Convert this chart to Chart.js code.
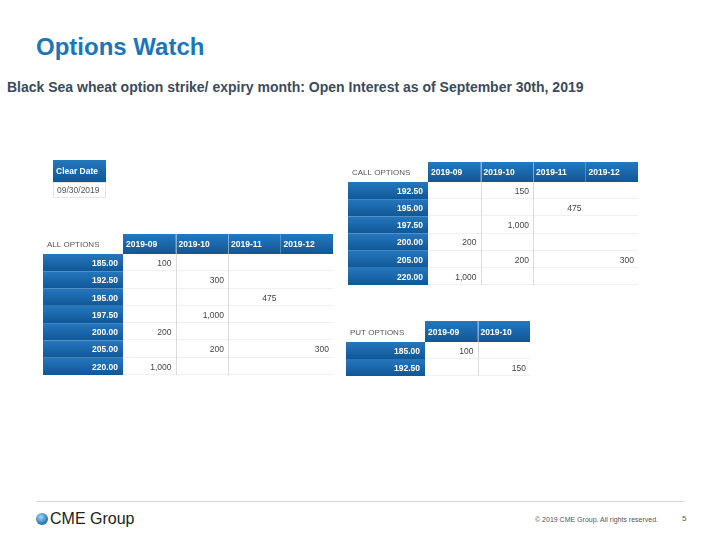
<!DOCTYPE html>
<html>
<head>
<meta charset="utf-8">
<script src="https://cdn.jsdelivr.net/npm/chart.js@4.4.0/dist/chart.umd.min.js"></script>
<style>
  body { margin: 0; width: 720px; height: 540px; background: #fff; position: relative; overflow: hidden;
         font-family: "Liberation Sans", Arial, sans-serif; }
  .abs { position: absolute; }
  #title { left: 36px; top: 32px; font-size: 24px; font-weight: bold; color: #1b75bb; line-height: 30px; }
  #subtitle { left: 7px; top: 79px; font-size: 14px; font-weight: bold; color: #3a4a5e; line-height: 17px; }
  #rule { left: 36px; top: 501px; width: 649px; height: 1px; background: #d9d9d9; }
  #logo { left: 36px; top: 509px; font-size: 16px; color: #222; line-height: 20px; }
  #globe { display: inline-block; width: 12px; height: 12px; border-radius: 50%; vertical-align: -1px; margin-right: 2px;
           background: radial-gradient(circle at 40% 35%, #a8d6f2, #2a7fc0 60%, #14578f); }
  #copy { left: 535px; top: 515px; font-size: 7px; color: #555; line-height: 9px; }
  #page { left: 682px; top: 514px; font-size: 8px; color: #555; line-height: 10px; }
  canvas { position: absolute; }
</style>
</head>
<body>
<div id="title" class="abs">Options Watch</div>
<div id="subtitle" class="abs">Black Sea wheat option strike/ expiry month: Open Interest as of September 30th, 2019</div>

<canvas id="clearDate" width="53" height="38" style="left:53px;top:160px"></canvas>
<canvas id="allOptions" width="290" height="141" style="left:43px;top:234px"></canvas>
<canvas id="callOptions" width="290" height="123" style="left:348px;top:162px"></canvas>
<canvas id="putOptions" width="184" height="55" style="left:346px;top:321px"></canvas>

<div id="rule" class="abs"></div>
<div id="logo" class="abs"><span id="globe"></span>CME Group</div>
<div id="copy" class="abs">© 2019 CME Group. All rights reserved.</div>
<div id="page" class="abs">5</div>

<script>
// clear date
var clearDates = ['09/30/2019'];

// all options
var allStrikes = ['185.00', '192.50', '195.00', '197.50', '200.00', '205.00', '220.00'];
var allMonths = ['2019-09', '2019-10', '2019-11', '2019-12'];
var allSep = [100, null, null, null, 200, null, 1000];
var allOct = [null, 300, null, 1000, null, 200, null];
var allNov = [null, null, 475, null, null, null, null];
var allDec = [null, null, null, null, null, 300, null];

// call options
var callStrikes = ['192.50', '195.00', '197.50', '200.00', '205.00', '220.00'];
var callMonths = ['2019-09', '2019-10', '2019-11', '2019-12'];
var callSep = [null, null, null, 200, null, 1000];
var callOct = [150, null, 1000, null, 200, null];
var callNov = [null, 475, null, null, null, null];
var callDec = [null, null, null, null, 300, null];

// put options
var putStrikes = ['185.00', '192.50'];
var putMonths = ['2019-09', '2019-10'];
var putSep = [100, null];
var putOct = [null, 150];

var cellFont = 'bold 8.5px "Liberation Sans Narrow", "Liberation Sans", Arial, sans-serif';
var valueFont = '8.5px "Liberation Sans", Arial, sans-serif';
var nameFont = '8px "Liberation Sans", Arial, sans-serif';

function blueCell(ctx, x, y, w, h) {
    var g = ctx.createLinearGradient(0, y, 0, y + h);
    g.addColorStop(0, '#2677be');
    g.addColorStop(1, '#0f5797');
    ctx.fillStyle = g;
    ctx.fillRect(x, y, w, h);
}

var tablePlugin = {
    id: 'table',
    afterDraw: function(chart) {
        var ctx = chart.ctx;
        var xs = chart.scales.x, ys = chart.scales.y;
        var area = chart.chartArea;
        var cfg = chart.options.plugins.table;
        var cols = xs.getLabels(), rows = ys.getLabels();
        var colW = area.width / cols.length, rowH = area.height / rows.length;
        ctx.save();

        // body grid
        ctx.fillStyle = '#fff';
        ctx.fillRect(area.left, area.top, area.width, area.height);
        ctx.strokeStyle = '#f0f0f0';
        ctx.lineWidth = 1;
        rows.forEach(function(r, i) {
            var y = Math.round(ys.getPixelForValue(i) + rowH / 2) - 0.5;
            ctx.beginPath(); ctx.moveTo(area.left, y); ctx.lineTo(area.right, y); ctx.stroke();
        });
        ctx.strokeStyle = '#dcdcdc';
        cols.forEach(function(c, j) {
            if (j === 0 || (cfg.skipLastLine && j === cols.length - 1)) return;
            var x = Math.round(xs.getPixelForValue(j) - colW / 2) + 0.5;
            ctx.beginPath(); ctx.moveTo(x, area.top); ctx.lineTo(x, area.bottom); ctx.stroke();
        });
        if (cfg.boxed) {
            ctx.strokeStyle = '#e6e6e6';
            ctx.strokeRect(area.left + 0.5, area.top + 0.5, area.width - 1, area.height - 1);
        }

        // header row
        var headTop = area.top - cfg.headH;
        cols.forEach(function(c, j) {
            var x0 = xs.getPixelForValue(j) - colW / 2;
            blueCell(ctx, x0, headTop, colW, cfg.headH);
            ctx.fillStyle = '#fff';
            ctx.font = cellFont;
            ctx.textAlign = 'left';
            ctx.textBaseline = 'middle';
            ctx.fillText(c, x0 + 3, headTop + cfg.headH / 2 + 1);
        });
        ctx.strokeStyle = 'rgba(255,255,255,0.45)';
        cols.forEach(function(c, j) {
            if (j === 0 || (cfg.skipLastLine && j === cols.length - 1)) return;
            var x = Math.round(xs.getPixelForValue(j) - colW / 2) + 0.5;
            ctx.beginPath(); ctx.moveTo(x, headTop); ctx.lineTo(x, area.top); ctx.stroke();
        });

        // table name
        if (cfg.name) {
            ctx.fillStyle = '#555';
            ctx.font = nameFont;
            ctx.textAlign = 'left';
            ctx.fillText(cfg.name, 4, headTop + cfg.headH / 2 + 1);
        }

        // row headers
        if (area.left > 0) {
            rows.forEach(function(r, i) {
                var y0 = ys.getPixelForValue(i) - rowH / 2;
                blueCell(ctx, 0, y0, area.left, rowH);
                ctx.fillStyle = '#fff';
                ctx.font = cellFont;
                ctx.textAlign = 'right';
                ctx.textBaseline = 'middle';
                ctx.fillText(r, area.left - 5, y0 + rowH / 2 + 1);
            });
        }

        // values
        chart.data.datasets.forEach(function(ds, d) {
            var meta = chart.getDatasetMeta(d);
            meta.data.forEach(function(pt, k) {
                var v = ds.data[k].v;
                ctx.fillStyle = cfg.valueColor || '#444';
                ctx.font = valueFont;
                ctx.textBaseline = 'middle';
                if (cfg.alignLeft) {
                    ctx.textAlign = 'left';
                    ctx.fillText(typeof v === 'number' ? v.toLocaleString('en-US') : v, pt.x - colW / 2 + 4, pt.y + 1);
                } else {
                    ctx.textAlign = 'right';
                    ctx.fillText(v.toLocaleString('en-US'), pt.x + colW / 2 - 4, pt.y + 1);
                }
            });
        });
        ctx.restore();
    }
};

function toPoints(month, strikes, values) {
    var pts = [];
    strikes.forEach(function(s, i) {
        if (values[i] !== null) pts.push({ x: month, y: s, v: values[i] });
    });
    return pts;
}

function createTable(id, months, strikes, series, table, padLeft, padTop) {
    var ctx = document.getElementById(id).getContext('2d');
    var datasets = series.map(function(vals, j) {
        return { data: toPoints(months[j], strikes, vals), pointRadius: 0, pointHoverRadius: 0 };
    });
    table.headH = padTop;
    return new Chart(ctx, {
        type: 'scatter',
        data: { datasets: datasets },
        options: {
            responsive: false,
            animation: false,
            events: [],
            layout: { padding: { left: padLeft, top: padTop, right: 0, bottom: 0 } },
            scales: {
                x: { type: 'category', labels: months, offset: true, display: false },
                y: { type: 'category', labels: strikes, offset: true, display: false }
            },
            plugins: {
                legend: { display: false },
                tooltip: { enabled: false },
                table: table
            }
        },
        plugins: [tablePlugin]
    });
}

createTable('clearDate', ['Clear Date'], clearDates, [['09/30/2019']],
    { alignLeft: true, boxed: true, valueColor: '#555' }, 0, 22);
createTable('allOptions', allMonths, allStrikes, [allSep, allOct, allNov, allDec],
    { name: 'ALL OPTIONS', skipLastLine: true }, 80, 20);
createTable('callOptions', callMonths, callStrikes, [callSep, callOct, callNov, callDec],
    { name: 'CALL OPTIONS', skipLastLine: true }, 80, 20);
createTable('putOptions', putMonths, putStrikes, [putSep, putOct],
    { name: 'PUT OPTIONS' }, 79, 21);
</script>
</body>
</html>
